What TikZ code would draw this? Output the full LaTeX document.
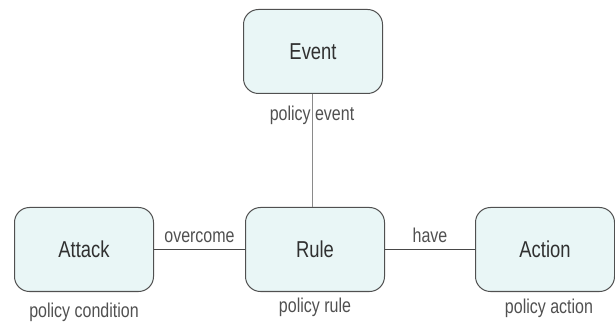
\documentclass[tikz,border=0pt]{standalone}
\usepackage{fontspec}
\setmainfont{Liberation Sans}[FakeStretch=0.8]
\definecolor{boxfill}{HTML}{E9F6F6}
\definecolor{boxline}{HTML}{505050}
\definecolor{linkline}{HTML}{484848}
\definecolor{vline}{HTML}{8A8A8A}
\definecolor{boxtext}{HTML}{303030}
\definecolor{labtext}{HTML}{505050}
\begin{document}
\begin{tikzpicture}[x=1pt,y=1pt,
  entity/.style={draw=boxline, line width=1pt, fill=boxfill, rounded corners=15pt,
    minimum width=139pt, minimum height=84pt, inner sep=0pt,
    font=\fontsize{23}{26}\selectfont, text=boxtext},
  lab/.style={font=\fontsize{20}{22}\selectfont, text=labtext, inner sep=0pt},
  link/.style={draw=linkline, line width=1.4pt},
  vlink/.style={draw=vline, line width=0.9pt}]
\useasboundingbox (0,0) rectangle (615,321);
\node[entity] (event)  at (313,269.5) {Event};
\node[entity] (attack) at (84,71.5) {Attack};
\node[entity] (rule)   at (315,71.5) {Rule};
\node[entity] (action) at (545,71.5) {Action};
\draw[vlink] (event.south -| 312,0) -- (rule.north -| 312,0);
\draw[link] (attack.east) -- node[lab, above=6pt] (ov) {overcome} (rule.west);
\draw[link] (rule.east) -- node[lab, above=6pt] (hv) {have} (action.west);
\node[lab] (pe) at (312,206) {policy event};
\node[lab] (pc) at (84,9) {policy condition};
\node[lab] (pr) at (315,14) {policy rule};
\node[lab] (pa) at (549,13) {policy action};
\end{tikzpicture}
\end{document}
